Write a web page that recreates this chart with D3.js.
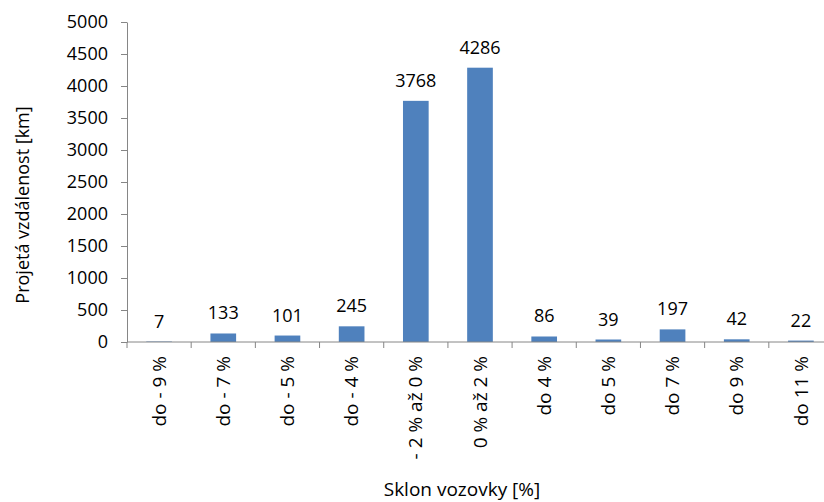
<!DOCTYPE html>
<html>
<head>
<meta charset="utf-8">
<script src="https://d3js.org/d3.v7.min.js"></script>
<style>
body { margin: 0; background: #fff; }
text { font-family: "Open Sans", sans-serif; fill: #000; }
</style>
</head>
<body>
<div id="chart"></div>
<script>
var categories = ["do - 9 %", "do - 7 %", "do - 5 %", "do - 4 %", "- 2 % až 0 %", "0 % až 2 %",
	"do 4 %", "do 5 %", "do  7 %", "do 9 %", "do 11 %"];
var values = [7, 133, 101, 245, 3768, 4286, 86, 39, 197, 42, 22];
var yTicks = [0, 500, 1000, 1500, 2000, 2500, 3000, 3500, 4000, 4500, 5000];

var width = 824, height = 502;
var margin = { top: 22, left: 127, bottom: 160 };
var plotRight = 833;

var svg = d3.select("#chart")
	.append("svg")
	.attr("width", width)
	.attr("height", height);

var x = d3.scaleBand()
	.domain(categories)
	.range([margin.left, plotRight])
	.paddingInner(0.6)
	.paddingOuter(0.3);

var y = d3.scaleLinear()
	.domain([0, 5000])
	.range([342, margin.top]);

// bars
svg.append("g").selectAll("rect")
	.data(values)
	.join("rect")
	.attr("x", (d, i) => x(categories[i]))
	.attr("y", d => y(d))
	.attr("width", x.bandwidth())
	.attr("height", d => y(0) - y(d))
	.attr("fill", "#4F81BD");

// data labels
svg.append("g").selectAll("text")
	.data(values)
	.join("text")
	.attr("x", (d, i) => x(categories[i]) + x.bandwidth() / 2)
	.attr("y", d => y(d) - 14)
	.attr("text-anchor", "middle")
	.style("font-size", "18px")
	.text(d => d);

// y axis
var yAxis = svg.append("g")
	.attr("transform", "translate(" + margin.left + ",0)")
	.call(d3.axisLeft(y).tickValues(yTicks).tickFormat(d3.format("d"))
		.tickSize(6).tickPadding(13).tickSizeOuter(0));
yAxis.selectAll("text").style("font-size", "18px");

// x axis with ticks at band boundaries
var xAxis = svg.append("g")
	.attr("transform", "translate(0," + y(0) + ")");
xAxis.append("line")
	.attr("x1", margin.left).attr("x2", plotRight)
	.attr("y1", 0).attr("y2", 0);
var step = x.step();
var bounds = d3.range(categories.length + 1).map(i => x(categories[0]) - x.paddingOuter() * step + i * step);
xAxis.selectAll("line.tick")
	.data(bounds)
	.join("line")
	.attr("class", "tick")
	.attr("x1", d => d).attr("x2", d => d)
	.attr("y1", 0).attr("y2", 6);
xAxis.selectAll("text")
	.data(categories)
	.join("text")
	.attr("transform", d => "translate(" + (x(d) + x.bandwidth() / 2) + ",14) rotate(-90)")
	.attr("text-anchor", "end")
	.attr("dy", "0.35em")
	.style("font-size", "19px")
	.text(d => d);

svg.selectAll("line, path.domain").attr("stroke", "#868686").attr("stroke-width", 1);
yAxis.selectAll("line").attr("stroke", "#868686");

// axis titles
svg.append("text")
	.attr("transform", "translate(29,205) rotate(-90)")
	.attr("text-anchor", "middle")
	.style("font-size", "18px")
	.text("Projetá vzdálenost [km]");

svg.append("text")
	.attr("x", 462)
	.attr("y", 496)
	.attr("text-anchor", "middle")
	.style("font-size", "19px")
	.text("Sklon vozovky [%]");
</script>
</body>
</html>
